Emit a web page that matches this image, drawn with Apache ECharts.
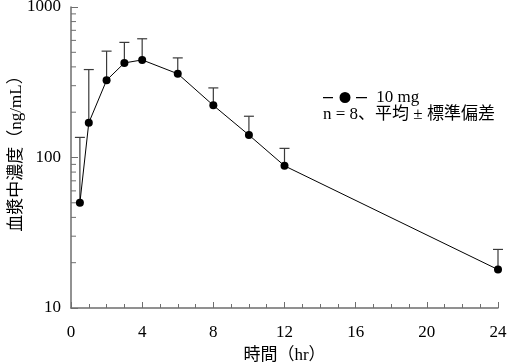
<!DOCTYPE html>
<html>
<head>
<meta charset="utf-8">
<script src="https://cdn.jsdelivr.net/npm/echarts@6/dist/echarts.min.js"></script>
<style>
html,body{margin:0;padding:0;background:#fff;}
#chart{width:508px;height:363px;}
</style>
</head>
<body>
<div id="chart"></div>
<script>
// Data
var times = [0.5, 1, 2, 3, 4, 6, 8, 10, 12, 24];
var means = [50, 170, 326, 425, 445, 360, 222, 141, 88, 18];
var upperSD = [136, 384, 509, 582, 615, 459, 290, 188, 115, 24.5];
var xTicks = [0, 4, 8, 12, 16, 20, 24];
var yMinorTicks = [20, 30, 40, 50, 60, 70, 80, 90, 200, 300, 400, 500, 600, 700, 800, 900];
var seriesName = '10 mg';
var noteText = 'n = 8、平均 ± 標準偏差';
var xName = '時間（hr）';
var yName = '血漿中濃度（ng/mL）';

var FONT = "'Liberation Serif', 'Noto Sans CJK JP', serif";
var AXIS_COLOR = '#6e6e6e';

var chart = echarts.init(document.getElementById('chart'), null, {renderer: 'canvas'});

var lineData = times.map(function (t, i) { return [t, means[i]]; });
var errData = times.map(function (t, i) { return [t, means[i], upperSD[i]]; });
var minorData = yMinorTicks.map(function (v) { return [0, v]; });

var option = {
  animation: false,
  backgroundColor: '#fff',
  grid: {left: 71, right: 10, top: 7, bottom: 55, containLabel: false, outerBoundsMode: 'none'},
  legend: {
    show: true,
    left: 323,
    top: 89,
    padding: 0,
    itemWidth: 44,
    itemHeight: 11,
    icon: 'path://M0,5 h10 v1.3 h-10 Z M16.5,5.5 a5.5,5.5 0 1,0 11,0 a5.5,5.5 0 1,0 -11,0 Z M33,5 h11 v1.3 h-11 Z',
    data: [seriesName],
    formatter: function (n) { return ' ' + n; },
    textStyle: {fontFamily: FONT, fontSize: 17, color: '#000'},
    selectedMode: false
  },
  graphic: [{
    type: 'text',
    left: 323,
    top: 106,
    style: {text: noteText, font: "17px 'Liberation Serif', 'Noto Sans CJK JP', serif", fill: '#000'}
  }],
  xAxis: {
    type: 'value',
    min: 0,
    max: 24,
    interval: 4,
    name: xName,
    nameLocation: 'middle',
    nameGap: 39,
    nameMoveOverlap: false,
    nameTextStyle: {fontFamily: FONT, fontSize: 17, color: '#000'},
    axisLine: {show: true, lineStyle: {color: AXIS_COLOR, width: 1.5}},
    axisTick: {show: true, inside: true, length: 6, lineStyle: {color: AXIS_COLOR, width: 1}},
    minorTick: {show: true, splitNumber: 4, length: 4, lineStyle: {color: AXIS_COLOR, width: 1}},
    axisLabel: {
      margin: 16, fontFamily: FONT, fontSize: 17, color: '#000',
      formatter: function (v) { return xTicks.indexOf(v) >= 0 ? String(v) : ''; }
    },
    splitLine: {show: false}
  },
  yAxis: {
    type: 'log',
    logBase: 10,
    min: 10,
    max: 1000,
    name: yName,
    nameLocation: 'middle',
    nameRotate: 90,
    nameGap: 46,
    nameMoveOverlap: false,
    nameTextStyle: {fontFamily: FONT, fontSize: 17, color: '#000', padding: [0, 0, 0, 16]},
    axisLine: {show: true, lineStyle: {color: AXIS_COLOR, width: 1.5}},
    axisTick: {show: true, inside: true, length: 7, lineStyle: {color: AXIS_COLOR, width: 1}},
    axisLabel: {margin: 10, fontFamily: FONT, fontSize: 17, color: '#000',
      formatter: function (v) { return String(Math.round(v)); }},
    splitLine: {show: false}
  },
  series: [
    {
      name: 'minorTicks',
      type: 'custom',
      silent: true,
      clip: false,
      z: 1,
      data: minorData,
      renderItem: function (params, api) {
        var p = api.coord([api.value(0), api.value(1)]);
        return {
          type: 'line',
          shape: {x1: p[0], y1: p[1], x2: p[0] + 5, y2: p[1]},
          style: {stroke: AXIS_COLOR, lineWidth: 1}
        };
      }
    },
    {
      name: 'errorBars',
      type: 'custom',
      silent: true,
      z: 2,
      data: errData,
      renderItem: function (params, api) {
        var x = api.value(0);
        var lo = api.coord([x, api.value(1)]);
        var hi = api.coord([x, api.value(2)]);
        var half = 5;
        return {
          type: 'group',
          children: [
            {type: 'line', shape: {x1: lo[0], y1: lo[1], x2: hi[0], y2: hi[1]}, style: {stroke: '#3a3a3a', lineWidth: 1.2}},
            {type: 'line', shape: {x1: hi[0] - half, y1: hi[1], x2: hi[0] + half, y2: hi[1]}, style: {stroke: '#3a3a3a', lineWidth: 1.2}}
          ]
        };
      }
    },
    {
      name: seriesName,
      type: 'line',
      z: 3,
      data: lineData,
      symbol: 'circle',
      symbolSize: 8,
      itemStyle: {color: '#000'},
      lineStyle: {color: '#000', width: 1}
    }
  ]
};
chart.setOption(option);
</script>
</body>
</html>
